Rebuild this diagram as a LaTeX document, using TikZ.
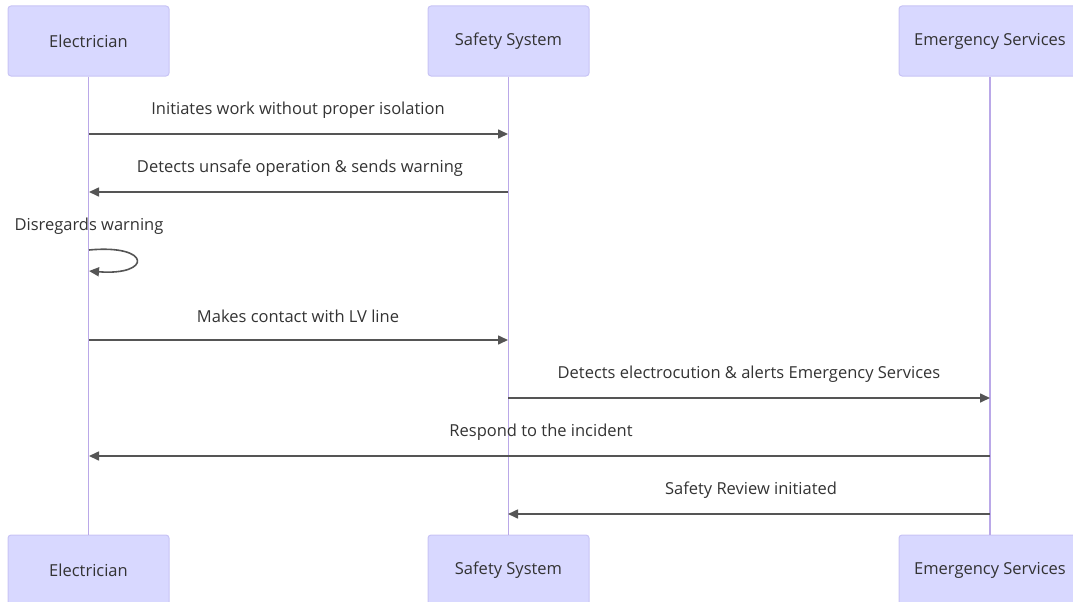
\documentclass[tikz,border=0pt]{standalone}
\usepackage{fontspec}
\setmainfont{Open Sans}
\usetikzlibrary{arrows.meta}
\definecolor{actfill}{RGB}{216,216,255}
\definecolor{actdraw}{RGB}{200,196,245}
\definecolor{lifec}{RGB}{186,168,232}
\definecolor{msgc}{RGB}{85,85,85}
\definecolor{txtc}{RGB}{51,51,51}
\tikzset{
  actor/.style={draw=actdraw, fill=actfill, line width=1pt, rounded corners=3pt,
    minimum height=70pt, text=txtc, font=\fontsize{16.5}{19}\selectfont, inner sep=0pt},
  life/.style={draw=lifec, line width=1.5pt},
  msg/.style={draw=msgc, line width=1.6pt, -{Triangle[length=10pt,width=9pt]}},
  lbl/.style={text=txtc, font=\fontsize{16.5}{19}\selectfont, inner sep=0pt}
}
\newcommand{\dn}[1]{\raisebox{-2pt}{#1}}
\begin{document}
\begin{tikzpicture}[x=1pt,y=-1pt]
\useasboundingbox (0,0) rectangle (1073,602);
\clip (0,0) rectangle (1073,602);
% actors
\node[actor, minimum width=161pt] (eT) at (88.5,41) {\dn{Electrician}};
\node[actor, minimum width=161pt] (sT) at (508.5,41) {\dn{Safety System}};
\node[actor, minimum width=182pt] (mT) at (990,41) {\dn{Emergency Services}};
\node[actor, minimum width=161pt] (eB) at (88.5,570) {\dn{Electrician}};
\node[actor, minimum width=161pt] (sB) at (508.5,570) {\dn{Safety System}};
\node[actor, minimum width=182pt] (mB) at (990,570) {\dn{Emergency Services}};
% lifelines
\draw[life] (eT.south) -- (eB.north);
\draw[life] (sT.south) -- (sB.north);
\draw[life] (mT.south) -- (mB.north);
% message endpoints
\foreach \y/\n in {134/1,192/2,250/3a,271/3b,340/4,398/5,456/6,514/7}{
  \coordinate (e\n) at (89,\y);
  \coordinate (s\n) at (508,\y);
  \coordinate (m\n) at (990,\y);
}
% messages
\draw[msg] (e1) -- (s1);
\node[lbl] (l1) at (298,110) {Initiates work without proper isolation};
\draw[msg] (s2) -- (e2);
\node[lbl] (l2) at (300,168) {Detects unsafe operation \& sends warning};
\draw[msg] (e3a) .. controls (152,244) and (152,276) .. (e3b);
\node[lbl] (l3) at (89,226) {Disregards warning};
\draw[msg] (e4) -- (s4);
\node[lbl] (l4) at (298,316) {Makes contact with LV line};
\draw[msg] (s5) -- (m5);
\node[lbl] (l5) at (749,374) {Detects electrocution \& alerts Emergency Services};
\draw[msg] (m6) -- (e6);
\node[lbl] (l6) at (541,432) {Respond to the incident};
\draw[msg] (m7) -- (s7);
\node[lbl] (l7) at (751,490) {Safety Review initiated};
\end{tikzpicture}
\end{document}
